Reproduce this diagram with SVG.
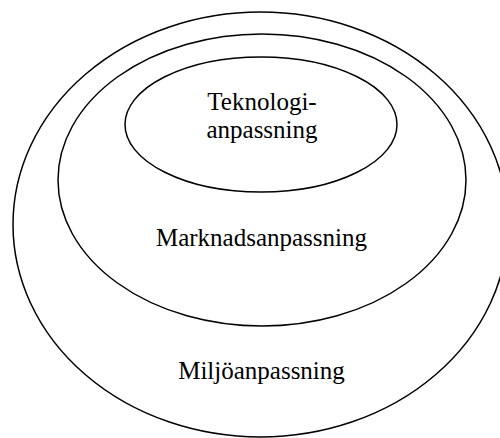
<svg xmlns="http://www.w3.org/2000/svg" width="500" height="438" viewBox="0 0 500 438">
<style>
.e{fill:none;stroke:#000;stroke-width:1.5}
.t{font-family:"Liberation Serif","Times New Roman",serif;font-size:25px;fill:#000;text-anchor:middle}
</style>
<rect width="500" height="438" fill="#fff"/>
<g id="miljo">
<ellipse class="e" cx="260.5" cy="224.5" rx="247.5" ry="212.5"/>
<text class="t" x="261.5" y="379">Miljöanpassning</text>
</g>
<g id="marknad">
<ellipse class="e" cx="262" cy="180" rx="204" ry="146"/>
<text class="t" x="261.5" y="246">Marknadsanpassning</text>
</g>
<g id="teknologi">
<ellipse class="e" cx="261" cy="124.5" rx="136" ry="67.5"/>
<text class="t" x="262" y="110">Teknologi-</text>
<text class="t" x="262" y="138">anpassning</text>
</g>
<g id="connectors"/>
</svg>
